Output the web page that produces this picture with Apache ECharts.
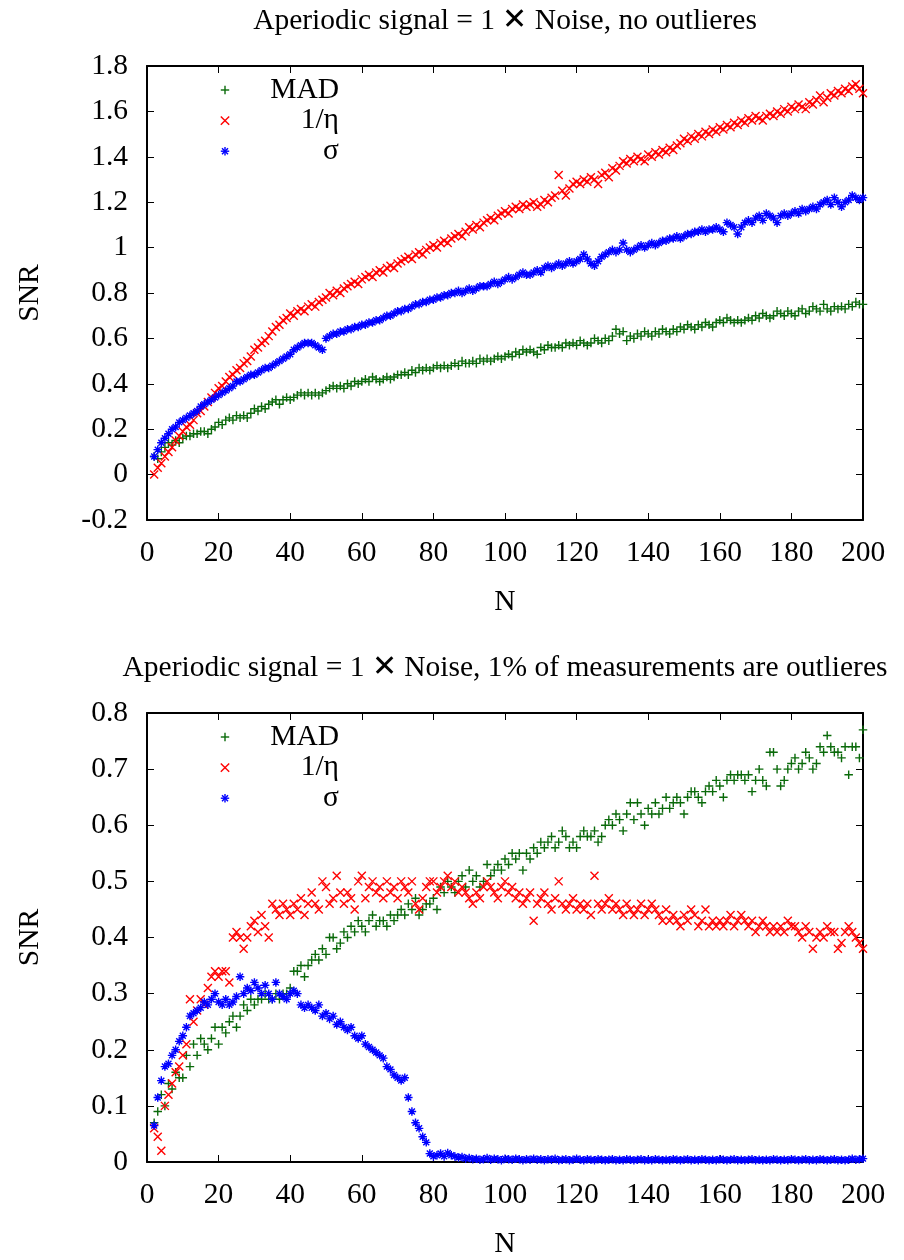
<!DOCTYPE html>
<html>
<head>
<meta charset="utf-8">
<script src="https://cdn.jsdelivr.net/npm/echarts@6/dist/echarts.min.js"></script>
<style>
  html, body { margin: 0; padding: 0; background: #ffffff; }
  #chart { width: 904px; height: 1260px; }
</style>
</head>
<body>
<div id="chart"></div>
<script>
// Samples are taken at N = 2, 3, ..., 200
const FIRST_N = 2;

// ---- Panel 1: no outliers ----
const topMAD = [
  0.08,0.07,0.10,0.12,0.14,0.13,0.15,0.14,0.16,0.17,
  0.17,0.18,0.18,0.19,0.19,0.18,0.20,0.21,0.23,0.22,
  0.24,0.25,0.24,0.26,0.25,0.26,0.25,0.27,0.29,0.28,
  0.30,0.29,0.31,0.32,0.33,0.31,0.33,0.34,0.33,0.34,
  0.35,0.36,0.35,0.36,0.35,0.36,0.35,0.36,0.37,0.38,
  0.39,0.38,0.39,0.38,0.40,0.39,0.41,0.40,0.41,0.42,
  0.41,0.43,0.42,0.41,0.42,0.43,0.42,0.43,0.44,0.44,
  0.45,0.44,0.46,0.45,0.47,0.46,0.47,0.46,0.47,0.48,
  0.47,0.48,0.47,0.48,0.49,0.48,0.50,0.49,0.49,0.50,
  0.49,0.51,0.50,0.51,0.50,0.51,0.52,0.51,0.52,0.53,
  0.52,0.54,0.53,0.55,0.54,0.55,0.54,0.53,0.56,0.55,
  0.57,0.56,0.56,0.57,0.56,0.58,0.57,0.58,0.57,0.59,
  0.58,0.57,0.58,0.60,0.59,0.58,0.60,0.59,0.61,0.64,
  0.62,0.63,0.59,0.61,0.60,0.62,0.61,0.63,0.62,0.61,
  0.63,0.62,0.64,0.63,0.62,0.64,0.63,0.65,0.64,0.66,
  0.65,0.64,0.66,0.65,0.67,0.66,0.65,0.67,0.68,0.67,
  0.69,0.68,0.67,0.68,0.67,0.68,0.69,0.68,0.70,0.69,
  0.71,0.70,0.69,0.70,0.72,0.71,0.70,0.72,0.71,0.70,
  0.72,0.73,0.71,0.72,0.74,0.73,0.72,0.75,0.73,0.72,
  0.74,0.73,0.74,0.73,0.75,0.74,0.76,0.75,0.75
];
const topEta = [
  0.00,0.03,0.05,0.08,0.10,0.12,0.15,0.17,0.19,0.21,
  0.22,0.24,0.27,0.28,0.30,0.32,0.34,0.36,0.38,0.39,
  0.41,0.43,0.44,0.46,0.47,0.49,0.50,0.52,0.55,0.56,
  0.58,0.59,0.61,0.63,0.65,0.66,0.68,0.69,0.71,0.70,
  0.72,0.73,0.72,0.74,0.75,0.74,0.76,0.77,0.78,0.80,
  0.79,0.81,0.80,0.82,0.83,0.84,0.85,0.84,0.86,0.87,
  0.88,0.87,0.89,0.90,0.89,0.91,0.92,0.91,0.93,0.94,
  0.95,0.96,0.95,0.97,0.98,0.97,0.99,1.00,1.01,1.00,
  1.02,1.03,1.02,1.04,1.05,1.06,1.05,1.07,1.09,1.08,
  1.10,1.09,1.11,1.12,1.13,1.12,1.14,1.15,1.16,1.15,
  1.17,1.18,1.17,1.19,1.18,1.19,1.20,1.18,1.19,1.21,
  1.20,1.22,1.23,1.32,1.25,1.23,1.26,1.28,1.29,1.28,
  1.30,1.29,1.31,1.30,1.28,1.32,1.33,1.31,1.35,1.34,
  1.36,1.38,1.37,1.39,1.38,1.40,1.39,1.38,1.41,1.40,
  1.42,1.41,1.43,1.42,1.44,1.43,1.45,1.46,1.48,1.47,
  1.49,1.48,1.50,1.49,1.51,1.50,1.52,1.51,1.53,1.52,
  1.54,1.53,1.55,1.54,1.56,1.55,1.57,1.56,1.58,1.57,
  1.56,1.58,1.59,1.58,1.60,1.59,1.61,1.60,1.62,1.61,
  1.63,1.62,1.61,1.64,1.63,1.65,1.67,1.64,1.66,1.68,
  1.67,1.69,1.68,1.70,1.69,1.71,1.72,1.70,1.68
];
const topSigma = [
  0.08,0.11,0.14,0.16,0.18,0.20,0.21,0.23,0.24,0.25,
  0.26,0.27,0.28,0.30,0.31,0.32,0.33,0.34,0.35,0.36,
  0.37,0.38,0.39,0.41,0.41,0.42,0.43,0.44,0.44,0.45,
  0.46,0.47,0.47,0.48,0.49,0.50,0.51,0.52,0.53,0.55,
  0.56,0.57,0.58,0.58,0.58,0.57,0.56,0.55,0.60,0.61,
  0.62,0.62,0.63,0.63,0.64,0.64,0.65,0.65,0.66,0.66,
  0.67,0.67,0.68,0.68,0.69,0.70,0.70,0.71,0.72,0.72,
  0.73,0.73,0.74,0.75,0.75,0.76,0.76,0.77,0.77,0.78,
  0.78,0.79,0.79,0.80,0.80,0.81,0.80,0.81,0.82,0.81,
  0.82,0.83,0.83,0.83,0.84,0.85,0.84,0.85,0.86,0.87,
  0.86,0.87,0.88,0.89,0.88,0.88,0.89,0.90,0.89,0.91,
  0.92,0.91,0.92,0.93,0.92,0.93,0.94,0.93,0.94,0.95,
  0.97,0.95,0.93,0.92,0.94,0.96,0.97,0.98,0.99,0.98,
  0.99,1.02,0.99,0.98,0.99,1.00,1.01,1.00,1.01,1.02,
  1.01,1.02,1.03,1.03,1.04,1.04,1.05,1.04,1.05,1.06,
  1.06,1.07,1.07,1.08,1.07,1.08,1.08,1.09,1.08,1.07,
  1.11,1.10,1.09,1.06,1.09,1.11,1.12,1.11,1.13,1.14,
  1.12,1.15,1.14,1.13,1.11,1.14,1.15,1.14,1.15,1.16,
  1.15,1.17,1.16,1.17,1.18,1.17,1.19,1.20,1.21,1.19,
  1.22,1.20,1.18,1.20,1.21,1.23,1.22,1.21,1.22
];

// ---- Panel 2: 1% outliers ----
const botMAD = [
  0.07,0.09,0.12,0.10,0.14,0.13,0.16,0.15,0.15,0.19,
  0.17,0.21,0.19,0.22,0.21,0.20,0.22,0.24,0.21,0.24,
  0.23,0.25,0.26,0.24,0.26,0.28,0.27,0.29,0.28,0.29,
  0.29,0.30,0.29,0.29,0.30,0.29,0.30,0.30,0.31,0.34,
  0.34,0.35,0.33,0.35,0.36,0.37,0.36,0.38,0.37,0.40,
  0.40,0.38,0.39,0.41,0.40,0.42,0.41,0.43,0.42,0.41,
  0.43,0.44,0.42,0.43,0.43,0.42,0.44,0.43,0.44,0.45,
  0.44,0.46,0.45,0.47,0.44,0.45,0.46,0.46,0.47,0.45,
  0.49,0.48,0.50,0.49,0.48,0.50,0.51,0.49,0.52,0.50,
  0.51,0.49,0.50,0.53,0.51,0.52,0.53,0.52,0.54,0.53,
  0.55,0.54,0.55,0.52,0.55,0.54,0.56,0.55,0.57,0.56,
  0.57,0.58,0.56,0.57,0.59,0.58,0.56,0.57,0.56,0.58,
  0.59,0.58,0.58,0.59,0.57,0.58,0.60,0.61,0.60,0.62,
  0.61,0.59,0.62,0.64,0.61,0.64,0.62,0.60,0.63,0.62,
  0.64,0.62,0.63,0.65,0.63,0.64,0.65,0.64,0.62,0.65,
  0.66,0.66,0.65,0.64,0.66,0.67,0.66,0.68,0.67,0.65,
  0.68,0.69,0.68,0.69,0.69,0.68,0.69,0.66,0.68,0.70,
  0.68,0.67,0.73,0.73,0.70,0.67,0.68,0.70,0.71,0.72,
  0.70,0.71,0.73,0.72,0.70,0.71,0.74,0.73,0.76,0.74,
  0.73,0.73,0.72,0.74,0.69,0.74,0.74,0.72,0.77
];
const botEta = [
  0.06,0.045,0.02,0.10,0.12,0.14,0.16,0.17,0.19,0.21,
  0.29,0.25,0.27,0.29,0.28,0.31,0.33,0.34,0.33,0.34,
  0.34,0.32,0.40,0.41,0.40,0.38,0.40,0.42,0.43,0.41,
  0.44,0.42,0.40,0.46,0.45,0.44,0.46,0.45,0.44,0.46,
  0.45,0.47,0.44,0.46,0.48,0.46,0.45,0.50,0.49,0.46,
  0.47,0.51,0.48,0.46,0.48,0.47,0.45,0.50,0.51,0.47,
  0.49,0.50,0.48,0.49,0.47,0.50,0.48,0.49,0.47,0.50,
  0.49,0.48,0.50,0.46,0.45,0.47,0.49,0.50,0.50,0.48,
  0.49,0.50,0.51,0.49,0.50,0.48,0.49,0.48,0.47,0.46,
  0.48,0.47,0.49,0.50,0.49,0.48,0.47,0.49,0.50,0.48,
  0.49,0.47,0.48,0.46,0.47,0.48,0.43,0.46,0.47,0.48,
  0.46,0.45,0.47,0.50,0.46,0.45,0.46,0.47,0.45,0.46,
  0.45,0.46,0.44,0.51,0.46,0.45,0.46,0.47,0.45,0.46,
  0.45,0.44,0.46,0.45,0.44,0.45,0.46,0.44,0.45,0.46,
  0.45,0.44,0.43,0.45,0.43,0.44,0.43,0.42,0.44,0.43,
  0.45,0.44,0.42,0.43,0.45,0.42,0.43,0.42,0.43,0.42,
  0.43,0.44,0.42,0.43,0.44,0.43,0.42,0.43,0.41,0.42,
  0.43,0.42,0.41,0.42,0.41,0.42,0.41,0.43,0.42,0.42,
  0.41,0.40,0.42,0.41,0.38,0.40,0.41,0.40,0.42,0.41,
  0.41,0.38,0.39,0.41,0.42,0.41,0.40,0.39,0.38
];
const botSigma = [
  0.065,0.115,0.145,0.17,0.175,0.19,0.20,0.215,0.225,0.24,
  0.26,0.265,0.27,0.275,0.285,0.28,0.29,0.30,0.285,0.28,
  0.29,0.28,0.285,0.295,0.33,0.30,0.31,0.305,0.32,0.31,
  0.30,0.315,0.30,0.29,0.32,0.30,0.295,0.29,0.30,0.305,
  0.30,0.28,0.275,0.28,0.275,0.27,0.28,0.26,0.265,0.255,
  0.26,0.245,0.25,0.24,0.235,0.24,0.225,0.22,0.225,0.21,
  0.205,0.20,0.195,0.19,0.185,0.17,0.165,0.155,0.15,0.145,
  0.15,0.115,0.09,0.07,0.06,0.045,0.035,0.015,0.01,0.012,
  0.015,0.01,0.016,0.012,0.01,0.008,0.009,0.006,0.007,0.005,
  0.006,0.004,0.005,0.007,0.004,0.006,0.005,0.003,0.006,0.005,
  0.004,0.006,0.005,0.003,0.005,0.004,0.006,0.004,0.005,0.003,
  0.005,0.004,0.006,0.003,0.004,0.005,0.003,0.004,0.006,0.004,
  0.003,0.005,0.004,0.003,0.005,0.004,0.003,0.004,0.005,0.003,
  0.004,0.003,0.005,0.004,0.003,0.004,0.005,0.003,0.004,0.003,
  0.005,0.004,0.003,0.004,0.003,0.005,0.004,0.003,0.004,0.005,
  0.003,0.004,0.003,0.005,0.004,0.003,0.004,0.003,0.005,0.004,
  0.003,0.004,0.005,0.003,0.004,0.003,0.004,0.005,0.003,0.004,
  0.003,0.004,0.003,0.005,0.004,0.003,0.004,0.003,0.005,0.004,
  0.003,0.004,0.005,0.003,0.004,0.003,0.005,0.004,0.003,0.004,
  0.005,0.003,0.004,0.003,0.004,0.006,0.004,0.005,0.006
];

const titles = [
  'Aperiodic signal = 1 \u2715 Noise, no outlieres',
  'Aperiodic signal = 1 \u2715 Noise, 1% of measurements are outlieres'
];
const seriesNames = ['MAD', '1/\u03b7', '\u03c3'];
const xRange = { min: 0, max: 200, interval: 20 };
const yRanges = [
  { min: -0.2, max: 1.8, interval: 0.2 },
  { min: 0, max: 0.8, interval: 0.1 }
];

// ---- styling ----
const FONT = '"Liberation Serif", "Times New Roman", serif';
const FS = 29.5;
const COLORS = ['#0a6a0a', '#ff0000', '#0000ff'];
const SYMBOLS = [
  'path://M0,5L10,5M5,0L5,10',
  'path://M0,0L10,10M10,0L0,10',
  'path://M0,5L10,5M5,0L5,10M1.5,1.5L8.5,8.5M8.5,1.5L1.5,8.5'
];
const SYMBOL_SIZE = [8.5, 8, 8.5];
const STROKE = 1.4;

const grids = [
  { left: 147, top: 66, width: 716, height: 454 },
  { left: 147, top: 713, width: 716, height: 455 }
];

const frameLine = { show: true, onZero: false, lineStyle: { color: '#000', width: 2 } };
const tickIn = { show: true, inside: true, length: 7, lineStyle: { color: '#000', width: 1 } };

const xAxes = [], yAxes = [];
grids.forEach((g, gi) => {
  xAxes.push({
    type: 'value', gridIndex: gi, position: 'bottom', ...xRange,
    axisLine: frameLine, axisTick: tickIn, splitLine: { show: false },
    axisLabel: { color: '#000', fontFamily: FONT, fontSize: FS, margin: 18 },
    name: 'N', nameLocation: 'middle', nameGap: 67,
    nameTextStyle: { color: '#000', fontFamily: FONT, fontSize: FS }
  });
  xAxes.push({
    type: 'value', gridIndex: gi, position: 'top', ...xRange,
    axisLine: frameLine, axisTick: tickIn, splitLine: { show: false },
    axisLabel: { show: false }
  });
  yAxes.push({
    type: 'value', gridIndex: gi, position: 'left', ...yRanges[gi],
    axisLine: frameLine, axisTick: tickIn, splitLine: { show: false },
    axisLabel: { color: '#000', fontFamily: FONT, fontSize: FS, margin: 19 },
    name: 'SNR', nameLocation: 'middle', nameGap: 102,
    nameTextStyle: { color: '#000', fontFamily: FONT, fontSize: FS }
  });
  yAxes.push({
    type: 'value', gridIndex: gi, position: 'right', ...yRanges[gi],
    axisLine: frameLine, axisTick: tickIn, splitLine: { show: false },
    axisLabel: { show: false }
  });
});

function pairs(values) {
  return values.map((v, i) => [FIRST_N + i, v]);
}

const panelData = [
  [topMAD, topEta, topSigma],
  [botMAD, botEta, botSigma]
];

const series = [];
panelData.forEach((sets, gi) => {
  sets.forEach((vals, si) => {
    series.push({
      type: 'scatter',
      name: seriesNames[si],
      xAxisIndex: gi * 2,
      yAxisIndex: gi * 2,
      data: pairs(vals),
      symbol: SYMBOLS[si],
      symbolSize: SYMBOL_SIZE[si],
      itemStyle: { color: 'transparent', borderColor: COLORS[si], borderWidth: STROKE, opacity: 1 },
      emphasis: { disabled: true },
      silent: true,
      clip: false
    });
  });
});

// key sample glyphs drawn with short strokes
function keyGlyph(kind, cx, cy, color) {
  const r = 4.2, d = r * 0.72;
  let segs = [];
  if (kind === 0) segs = [[-r, 0, r, 0], [0, -r, 0, r]];
  if (kind === 1) segs = [[-r, -r, r, r], [r, -r, -r, r]];
  if (kind === 2) segs = [[-r, 0, r, 0], [0, -r, 0, r], [-d, -d, d, d], [d, -d, -d, d]];
  return {
    type: 'group', x: cx, y: cy, silent: true,
    children: segs.map(s => ({
      type: 'line',
      shape: { x1: s[0], y1: s[1], x2: s[2], y2: s[3] },
      style: { stroke: color, lineWidth: STROKE }
    }))
  };
}

const graphics = [];
const titleY = [21, 668];
const keyTop = [90, 737];
const keyStep = 30.6;
grids.forEach((g, gi) => {
  graphics.push({
    type: 'text', x: g.left + g.width / 2, y: titleY[gi], silent: true,
    style: { text: titles[gi], font: FS + 'px ' + FONT, fill: '#000', align: 'center', verticalAlign: 'middle' }
  });
  seriesNames.forEach((nm, si) => {
    const y = keyTop[gi] + si * keyStep;
    graphics.push(keyGlyph(si, 225, y, COLORS[si]));
    graphics.push({
      type: 'text', x: 339, y: y, silent: true,
      style: { text: nm, font: FS + 'px ' + FONT, fill: '#000', align: 'right', verticalAlign: 'middle' }
    });
  });
});

const chart = echarts.init(document.getElementById('chart'), null, { renderer: 'canvas' });
chart.setOption({
  animation: false,
  backgroundColor: '#ffffff',
  grid: grids,
  xAxis: xAxes,
  yAxis: yAxes,
  series: series,
  graphic: graphics
});
</script>
</body>
</html>
